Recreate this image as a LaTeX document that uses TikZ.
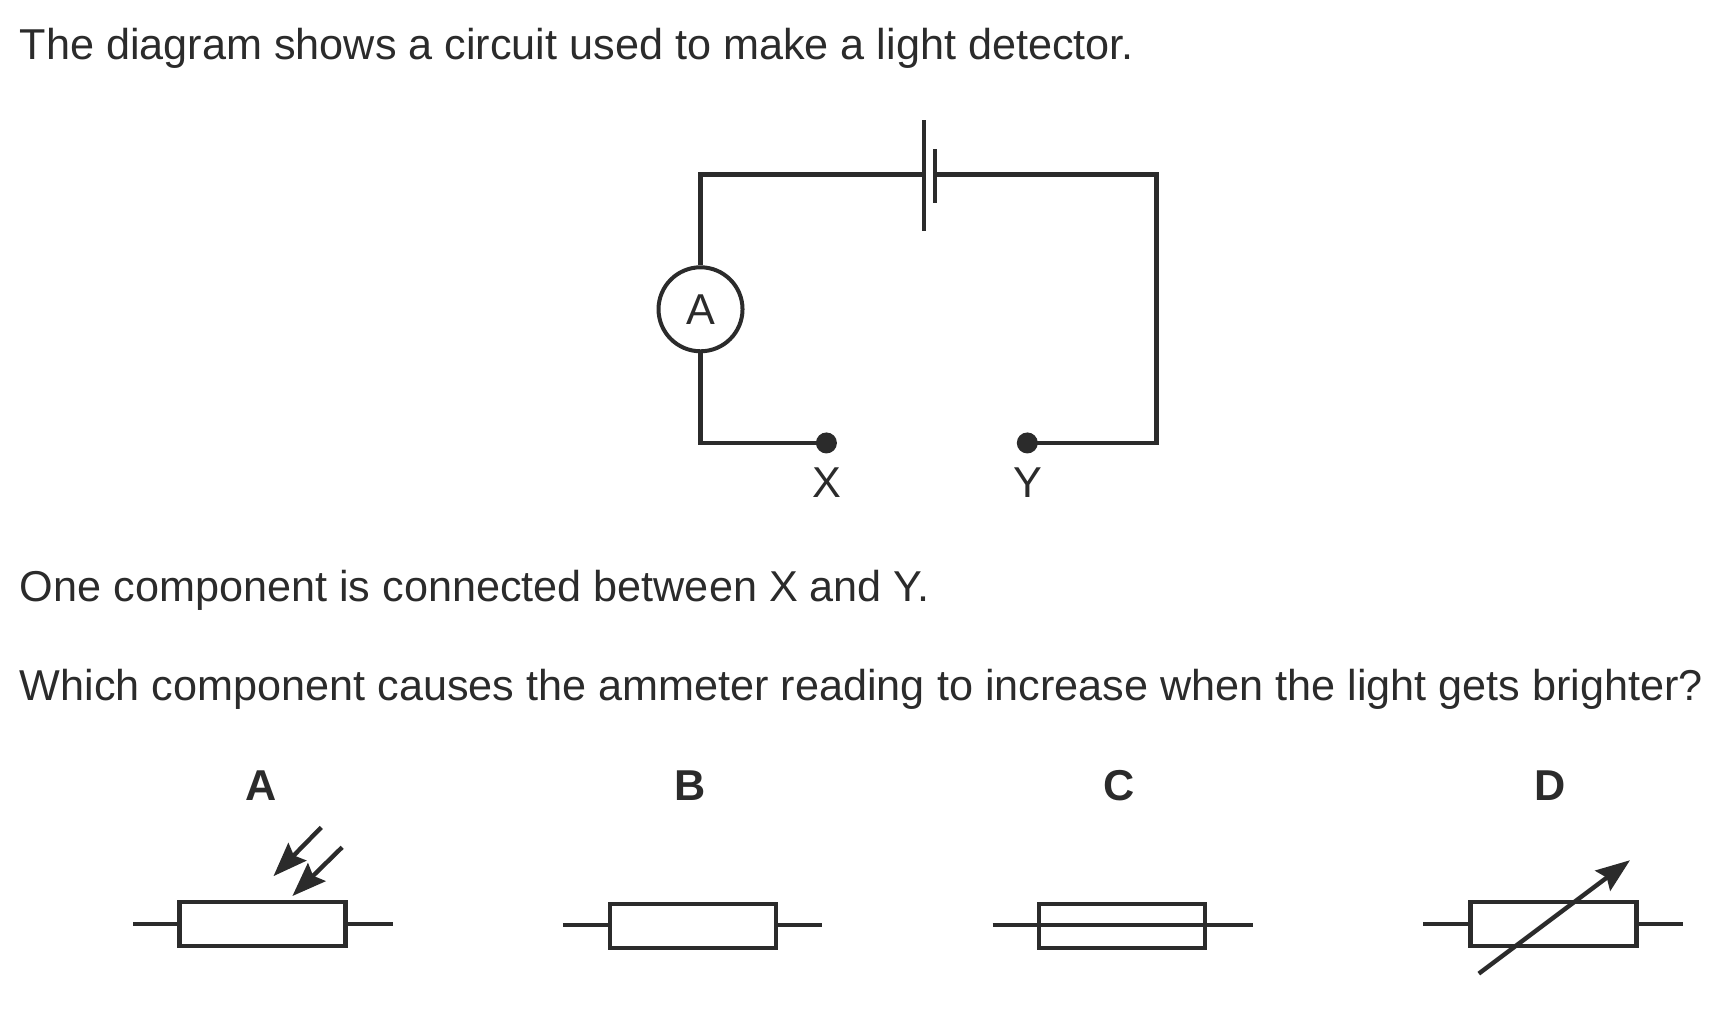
\documentclass[tikz,border=0pt]{standalone}
\usepackage{fontspec}
\setmainfont{Liberation Sans}
\usetikzlibrary{arrows.meta}
\definecolor{ink}{gray}{0.17}
\tikzset{
  x=0.9945pt,y=-0.9945pt,
  wire/.style={draw=ink,line width=4.4pt,line cap=butt,line join=miter},
  thin wire/.style={draw=ink,line width=4.2pt},
  body/.style={font=\fontsize{43.2}{52}\selectfont,text=ink,anchor=base west,inner sep=0pt,outer sep=0pt},
  term/.style={circle,fill=ink,inner sep=0pt,minimum size=21pt},
  termlabel/.style={font=\fontsize{43.2}{52}\selectfont,text=ink,inner sep=0pt},
  meter/.style={circle,draw=ink,line width=4pt,fill=white,minimum size=84pt,inner sep=0pt,font=\fontsize{43.2}{52}\selectfont,text=ink},
  choice/.style={font=\bfseries\fontsize{43.2}{52}\selectfont,text=ink,inner sep=0pt},
  res/.style={rectangle,draw=ink,line width=4.2pt,fill=white,minimum width=166pt,minimum height=44pt,inner sep=0pt},
  ray/.style={draw=ink,line width=4.4pt,-{Stealth[length=34pt,width=25pt,inset=5pt]}},
}
\begin{document}
\begin{tikzpicture}
\useasboundingbox (0,-1) rectangle (1742.6,1020.6);
\node[body] (l1) at (20,59) {The diagram shows a circuit used to make a light detector.};
\node[body] (l2) at (20,604) {One component is connected between X and Y.};
\node[body] (l3) at (20,703) {Which component causes the ammeter reading to increase when the light gets brighter?};
% circuit
\coordinate (tl) at (704.4,174.5);
\coordinate (tr) at (1163,174.5);
\coordinate (bl) at (704.4,444.4);
\coordinate (br) at (1163,444.4);
\coordinate (p1t) at (929,120);
\coordinate (p1b) at (929,231);
\coordinate (p2t) at (940,149);
\coordinate (p2b) at (940,203);
\coordinate (p1m) at (929,174.5);
\coordinate (p2m) at (940,174.5);
\node[meter] (am) at (704.4,310) {A};
\node[term] (X) at (831,444.4) {};
\node[term] (Y) at (1033,444.4) {};
\node[termlabel] (Xl) at (831,484) {X};
\node[termlabel] (Yl) at (1034,484) {Y};
\draw[wire] (p1m) -- (tl) -- (am.north);
\draw[wire] (am.south) -- (bl) -- (X.center);
\draw[wire] (p2m) -- (tr) -- (br) -- (Y.center);
\draw[wire,line width=4pt] (p1t) -- (p1b);
\draw[wire,line width=4.6pt] (p2t) -- (p2b);
% option labels
\node[choice] (cA) at (263,789) {A};
\node[choice] (cB) at (694,789) {B};
\node[choice] (cC) at (1125,789) {C};
\node[choice] (cD) at (1559,789) {D};
% option A
\coordinate (aL) at (134,928); \coordinate (aR) at (395,928);
\draw[thin wire] (aL) -- (aR);
\node[res] (rA) at (264,928) {};
\coordinate (r1s) at (323,831); \coordinate (r1e) at (275,880);
\coordinate (r2s) at (344,851); \coordinate (r2e) at (294,900);
\draw[ray] (r1s) -- (r1e);
\draw[ray] (r2s) -- (r2e);
% option B
\coordinate (bL) at (566,929); \coordinate (bR) at (827,929);
\draw[thin wire] (bL) -- (bR);
\node[res] (rB) at (696.5,930) {};
% option C
\coordinate (cL) at (998,929); \coordinate (cR) at (1260,929);
\node[res] (rC) at (1128.5,930) {};
\draw[thin wire] (cL) -- (cR);
% option D
\coordinate (dL) at (1431,928); \coordinate (dR) at (1692,928);
\draw[thin wire] (dL) -- (dR);
\node[res] (rD) at (1562,928) {};
\coordinate (ds) at (1487,978); \coordinate (de) at (1639,864);
\draw[ray] (ds) -- (de);
\end{tikzpicture}
\end{document}
